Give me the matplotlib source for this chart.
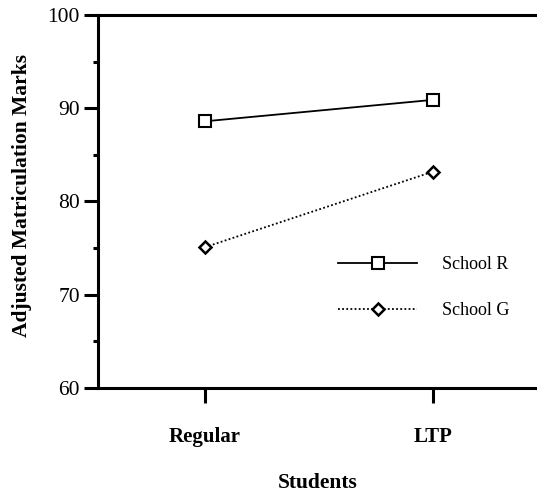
import matplotlib
matplotlib.use('Agg')
import matplotlib.pyplot as plt

students = ['Regular', 'LTP']
school_r = [88.6, 90.9]
school_g = [75.1, 83.2]

plt.rcParams['font.family'] = ['Liberation Serif', 'DejaVu Serif']

fig = plt.figure(figsize=(5.37, 4.94), dpi=100)
ax = fig.add_axes([98 / 537, 1 - 388 / 494, 1 - 98 / 537, (388 - 15) / 494])

x = list(range(len(students)))
ax.plot(x, school_r, color='black', lw=1.3, marker='s', ms=9,
        mfc='white', mec='black', mew=1.5, label='School R')
ax.plot(x, school_g, color='black', lw=1.3, ls=(0, (1, 1.3)), marker='D', ms=6.5,
        mfc='white', mec='black', mew=1.8, label='School G')

ax.set_xlim(-0.469, 1.456)
ax.set_ylim(60, 100)
ax.set_yticks([60, 70, 80, 90, 100])
ax.set_yticks([65, 75, 85, 95], minor=True)
ax.set_xticks(x)
ax.set_xticklabels(students, fontweight='bold', fontsize=15)

for s in ['left', 'bottom', 'top']:
    ax.spines[s].set_linewidth(2.2)
ax.spines['right'].set_visible(False)

ax.tick_params(axis='y', which='major', direction='out', length=10, width=2.2,
               pad=3, labelsize=15.5)
ax.tick_params(axis='y', which='minor', direction='out', length=3.5, width=2.2)
ax.tick_params(axis='x', direction='out', length=11, width=2.2, pad=17)

# y label centred at about x=22px, y=195px of the picture
ax.set_ylabel('Adjusted Matriculation Marks', fontweight='bold', fontsize=15.5,
              va='center')
ax.yaxis.set_label_coords((22 - 98) / 439, (388 - 195) / (388 - 15))

fig.text(318 / 537, 1 - 483 / 494, 'Students', fontweight='bold', fontsize=15.5,
         ha='center', va='center')

ax.legend(loc='center left', bbox_to_anchor=(338 / 537, 1 - 287.5 / 494),
          bbox_transform=fig.transFigure, frameon=False, fontsize=13,
          handlelength=4.4, handletextpad=1.35, labelspacing=1.6,
          borderpad=0, borderaxespad=0, numpoints=1)

fig.savefig('out.png', dpi=100)
